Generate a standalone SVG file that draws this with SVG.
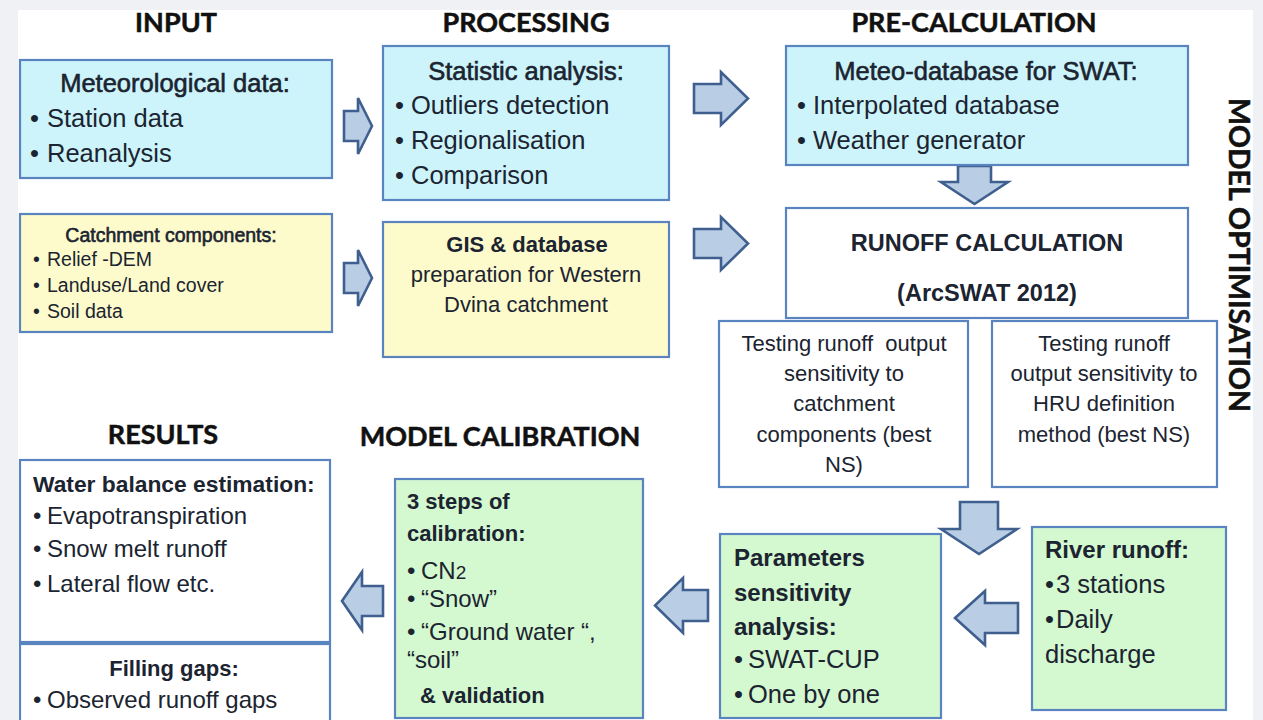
<svg xmlns="http://www.w3.org/2000/svg" width="1263" height="720" viewBox="0 0 1263 720">
  <style>
    .bg { fill: #eff1f4; }
    .sheet { fill: #ffffff; }
    .box { stroke: #5a84bf; stroke-width: 2.2; }
    .cyan { fill: #cdf4fb; }
    .yellow { fill: #fdfbcc; }
    .green { fill: #d4f8cf; }
    .white { fill: #ffffff; }
    .arrow { fill: #b9cde5; stroke: #3f5f8e; stroke-width: 2.6; stroke-linejoin: miter; }
    text { font-family: "Liberation Sans", Arial, sans-serif; fill: #1b2430; }
    .hd { font-family: Lato, "Liberation Sans", sans-serif; font-weight: 700; font-size: 27px; fill: #111111; stroke: #111111; stroke-width: 0.5; text-anchor: middle; }
    .sb { stroke: #1b2430; stroke-width: 0.6; }
    .b { font-weight: 700; }
    .c { text-anchor: middle; }
    .f26 { font-size: 25.5px; }
    .f24 { font-size: 24px; }
    .f22 { font-size: 22px; }
    .f20 { font-size: 19.5px; }
  </style>

  <!-- page -->
  <rect class="bg" x="0" y="0" width="1263" height="720"/>
  <rect class="sheet" x="18" y="10" width="1235" height="710"/>

  <!-- column headings -->
  <g id="headings">
    <text class="hd" x="176" y="32">INPUT</text>
    <text class="hd" x="526" y="32">PROCESSING</text>
    <text class="hd" x="974" y="32">PRE-CALCULATION</text>
    <text class="hd" x="163" y="444">RESULTS</text>
    <text class="hd" x="500" y="446">MODEL CALIBRATION</text>
    <text class="hd" style="font-size:28.5px" transform="translate(1239,255) rotate(90)" x="0" y="10">MODEL OPTIMISATION</text>
  </g>

  <!-- connectors -->
  <g id="connectors">
    <path class="arrow" d="M344,111 H358 V98 L372,126 L358,154 V141 H344 Z"/>
    <path class="arrow" d="M344,263 H358 V250 L372,278 L358,306 V293 H344 Z"/>
    <path class="arrow" d="M694,84 H721 V72 L748,98.5 L721,125 V113 H694 Z"/>
    <path class="arrow" d="M694,229 H721 V217 L748,243.5 L721,270 V258 H694 Z"/>
    <path class="arrow" d="M958,166 V182 H941 L974.5,204 L1008,182 H991 V166 Z"/>
    <path class="arrow" d="M960,502 V529 H941 L979,554 L1017,529 H998 V502 Z"/>
    <path class="arrow" d="M1018,603 V633 H985 V645 L955,618 L985,591 V603 Z"/>
    <path class="arrow" d="M708,590 V621 H683 V633 L655,605.5 L683,578 V590 Z"/>
    <path class="arrow" d="M383,586 V616 H362 V630 L342,601 L362,572 V586 Z"/>
  </g>

  <g id="meteo-data">
    <rect class="box cyan" x="20" y="60" width="312" height="118"/>
    <text class="f26 c sb" x="175" y="92">Meteorological data:</text>
    <text class="f26" x="30" y="127">•<tspan x="47">Station data</tspan></text>
    <text class="f26" x="30" y="162">•<tspan x="47">Reanalysis</tspan></text>
  </g>

  <g id="statistic-analysis">
    <rect class="box cyan" x="383" y="46" width="286" height="154"/>
    <text class="f26 c sb" x="526" y="80">Statistic analysis:</text>
    <text class="f26" x="395" y="114">•<tspan x="411">Outliers detection</tspan></text>
    <text class="f26" x="395" y="149">•<tspan x="411">Regionalisation</tspan></text>
    <text class="f26" x="395" y="184">•<tspan x="411">Comparison</tspan></text>
  </g>

  <g id="meteo-database">
    <rect class="box cyan" x="786" y="46" width="402" height="119"/>
    <text class="f26 c sb" x="986" y="80">Meteo-database for SWAT:</text>
    <text class="f26" x="797" y="114">•<tspan x="813">Interpolated database</tspan></text>
    <text class="f26" x="797" y="149">•<tspan x="813">Weather generator</tspan></text>
  </g>

  <g id="catchment-components">
    <rect class="box yellow" x="20" y="214" width="312" height="118"/>
    <text class="f20 c sb" x="171" y="242">Catchment components:</text>
    <text class="f20" x="33" y="266">•<tspan x="47">Relief -DEM</tspan></text>
    <text class="f20" x="33" y="292">•<tspan x="47">Landuse/Land cover</tspan></text>
    <text class="f20" x="33" y="318">•<tspan x="47">Soil data</tspan></text>
  </g>

  <g id="gis-database">
    <rect class="box yellow" x="383" y="222" width="286" height="135"/>
    <text class="f22 c b" x="527" y="252">GIS &amp; database</text>
    <text class="f22 c" x="526" y="282">preparation for Western</text>
    <text class="f22 c" x="526" y="312">Dvina catchment</text>
  </g>

  <g id="runoff-calculation">
    <rect class="box white" x="786" y="208" width="402" height="110"/>
    <text class="c b" style="font-size:23.5px" x="987" y="251">RUNOFF CALCULATION</text>
    <text class="c b" style="font-size:23.5px" x="987" y="301">(ArcSWAT 2012)</text>
  </g>

  <g id="test-catchment">
    <rect class="box white" x="719" y="321" width="249" height="166"/>
    <text class="f22 c" x="844" y="351" xml:space="preserve">Testing runoff  output</text>
    <text class="f22 c" x="844" y="381">sensitivity to</text>
    <text class="f22 c" x="844" y="411">catchment</text>
    <text class="f22 c" x="844" y="442">components (best</text>
    <text class="f22 c" x="844" y="472">NS)</text>
  </g>

  <g id="test-hru">
    <rect class="box white" x="992" y="321" width="225" height="166"/>
    <text class="f22 c" x="1104" y="351">Testing runoff</text>
    <text class="f22 c" x="1104" y="381">output sensitivity to</text>
    <text class="f22 c" x="1104" y="411">HRU definition</text>
    <text class="f22 c" x="1104" y="442">method (best NS)</text>
  </g>

  <g id="river-runoff">
    <rect class="box green" x="1032" y="527" width="194" height="183"/>
    <text class="f24 b" x="1045" y="558">River runoff:</text>
    <text class="f26" x="1045" y="593">•<tspan x="1056">3 stations</tspan></text>
    <text class="f26" x="1045" y="628">•<tspan x="1056">Daily</tspan></text>
    <text class="f26" x="1045" y="663">discharge</text>
  </g>

  <g id="parameters-sensitivity">
    <rect class="box green" x="720" y="534" width="221" height="184"/>
    <text class="f24 b" x="734" y="566">Parameters</text>
    <text class="f24 b" x="734" y="601">sensitivity</text>
    <text class="f24 b" x="734" y="635">analysis:</text>
    <text class="f26" x="734" y="668">•<tspan x="748">SWAT-CUP</tspan></text>
    <text class="f26" x="734" y="703">•<tspan x="748">One by one</tspan></text>
  </g>

  <g id="calibration-steps">
    <rect class="box green" x="395" y="479" width="248" height="239"/>
    <text class="f22 b" x="407" y="509">3 steps of</text>
    <text class="f22 b" x="407" y="541">calibration:</text>
    <text class="f24" x="407" y="579">•<tspan x="421">CN</tspan><tspan style="font-size:19px">2</tspan></text>
    <text class="f24" x="407" y="607">•<tspan x="421">“Snow”</tspan></text>
    <text class="f24" x="407" y="640">•<tspan x="421">“Ground water “,</tspan></text>
    <text class="f24" x="407" y="668">“soil”</text>
    <text class="f22 b" x="420" y="703">&amp; validation</text>
  </g>

  <g id="water-balance">
    <rect class="box white" x="20" y="460" width="310" height="182"/>
    <text class="b" style="font-size:22.8px" x="33" y="492">Water balance estimation:</text>
    <text class="f24" x="33" y="524">•<tspan x="47">Evapotranspiration</tspan></text>
    <text class="f24" x="33" y="557">•<tspan x="47">Snow melt runoff</tspan></text>
    <text class="f24" x="33" y="592">•<tspan x="47">Lateral flow etc.</tspan></text>
  </g>

  <g id="filling-gaps">
    <rect class="box white" x="20" y="644" width="310" height="82"/>
    <text class="f22 c b" x="174" y="676">Filling gaps:</text>
    <text class="f24" x="33" y="708">•<tspan x="47">Observed runoff gaps</tspan></text>
  </g>
</svg>
